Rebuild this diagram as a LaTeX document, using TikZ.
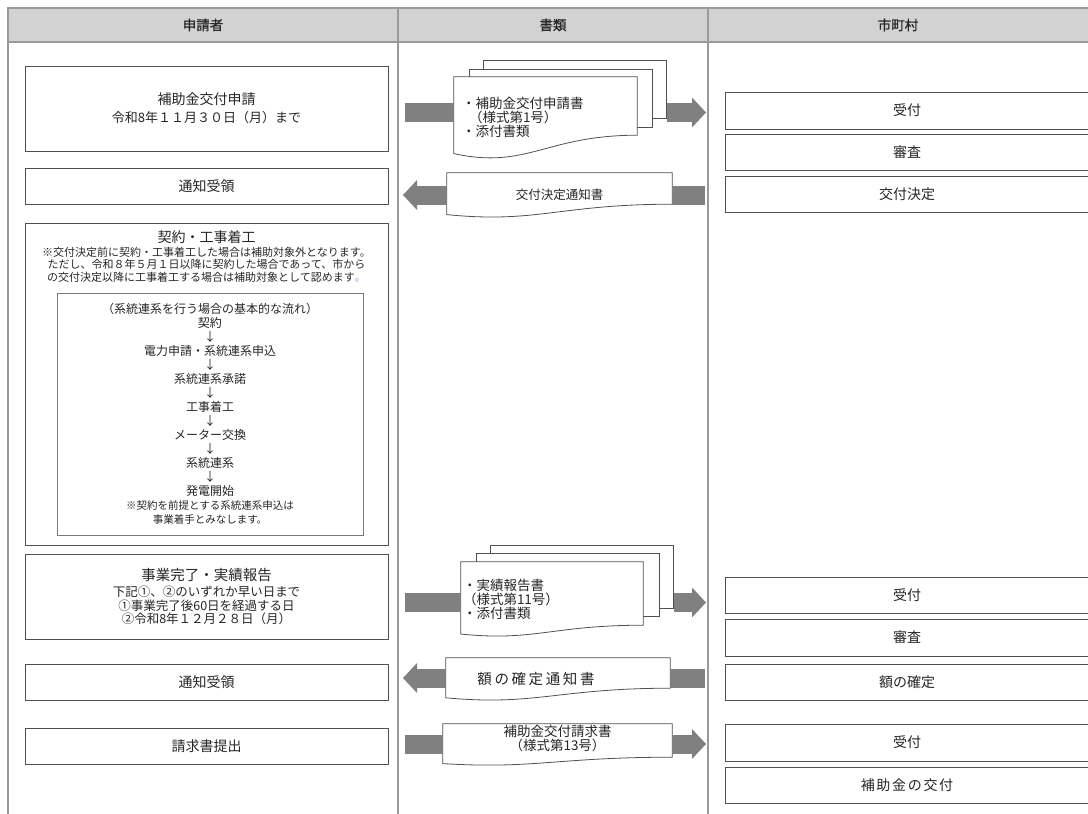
\documentclass[tikz,border=0pt]{standalone}
\usepackage{fontspec}
\setmainfont{Noto Sans CJK JP}
\newfontfamily\headfont[FakeBold=1]{Noto Sans CJK JP}
\newfontfamily\widefont[LetterSpace=12]{Noto Sans CJK JP}
\newfontfamily\widerfont[LetterSpace=18]{Noto Sans CJK JP}
\usetikzlibrary{arrows.meta, calc, backgrounds}

\definecolor{boxline}{HTML}{505050}
\definecolor{flowline}{HTML}{7A7A7A}
\definecolor{laneline}{HTML}{9A9A9A}
\definecolor{headfill}{HTML}{D2D2D2}
\definecolor{bargray}{HTML}{808080}
\definecolor{dotblue}{HTML}{5B9BD5}
\definecolor{ink}{HTML}{262626}

\tikzset{
  lane/.style={draw=laneline, line width=1.2pt},
  lanehead/.style={inner sep=0pt, font=\headfont\fontsize{13.5}{15}\selectfont},
  stage/.style={draw=boxline, line width=0.8pt, fill=white, minimum width=363pt,
    inner sep=0pt, align=center, font=\fontsize{14}{16}\selectfont},
  office/.style={stage, minimum width=364pt},
  note/.style={inner sep=0pt, align=center, font=\fontsize{11}{12.5}\selectfont},
  paper/.style={inner sep=0pt, align=center, font=\fontsize{13.5}{14}\selectfont},
  sheet/.style={draw=boxline, line width=0.8pt, fill=white, inner sep=0pt,
    minimum width=183pt, anchor=north west},
  paperline/.style={draw=boxline, line width=0.8pt, fill=white},
  bar/.style={draw=bargray, line width=19pt},
  barhead/.style={bar, -{Triangle[length=14pt, width=30pt, line width=0pt]}},
}

\newcommand\paperedge[2]{%
  \path ($(#1.south)!0.2!(#1.south west)$) coordinate (#1-dip);
  \draw[paperline] (#1.north west) -- (#1.north east) -- ([yshift=#2pt]#1.south east)
    .. controls ([yshift=#2pt]#1.south) and ([yshift=-0.5*#2pt]#1-dip)
    .. ([yshift=0.2*#2pt]#1.south west) -- cycle;}

\begin{document}
\begin{tikzpicture}[x=1pt, y=-1pt, text=ink]
\useasboundingbox (0,0) rectangle (1088,814);

\draw[lane, fill=headfill] (8,8) rectangle (1092,42);
\draw[lane] (8,42) -- (8,814);
\draw[lane] (398,8) -- (398,814);
\draw[lane] (708,8) -- (708,814);
\node[lanehead] (headA) at (203,25) {申請者};
\node[lanehead] (headB) at (553,25) {書類};
\node[lanehead] (headC) at (898,25) {市町村};

\node[stage, minimum height=85pt] (apply) at (206.5,108.5)
  {補助金交付申請\\[2pt]{\fontsize{13}{15}\selectfont 令和8年１１月３０日（月）まで}};
\node[stage, minimum height=36pt] (gotA) at (206.5,186) {通知受領};
\node[stage, minimum height=322pt] (contract) at (206.5,384) {};
\node[inner sep=0pt, font=\fontsize{14}{16}\selectfont] (contracttitle) at (206.5,237) {契約・工事着工};
\node[note] (contractnote) at (206.5,264.5)
  {※交付決定前に契約・工事着工した場合は補助対象外となります。\\
   ただし、令和８年５月１日以降に契約した場合であって、市から\\
   の交付決定以降に工事着工する場合は補助対象として認めます\textcolor{dotblue}{。}};
\node[stage, draw=flowline, minimum width=306pt, minimum height=242pt,
  font=\fontsize{12}{14}\selectfont] (flow) at (210,414)
  {（系統連系を行う場合の基本的な流れ）\\契約\\↓\\電力申請・系統連系申込\\↓\\
   系統連系承諾\\↓\\工事着工\\↓\\メーター交換\\↓\\系統連系\\↓\\発電開始\\
   {\fontsize{10.5}{12}\selectfont ※契約を前提とする系統連系申込は}\\
   {\fontsize{10.5}{12}\selectfont 事業着手とみなします。}};
\node[stage, minimum height=85pt, font=\fontsize{12.5}{13.5}\selectfont] (report) at (206.5,596.5)
  {{\fontsize{14.5}{16}\selectfont 事業完了・実績報告}\\[2.5pt]
   下記①、②のいずれか早い日まで\\①事業完了後60日を経過する日\\②令和8年１２月２８日（月）};
\node[stage, minimum height=36pt] (gotB) at (206.5,682) {通知受領};
\node[stage, minimum height=36pt] (invoice) at (206.5,746) {請求書提出};

\node[office, minimum height=37pt] (recA) at (907,110.5) {受付};
\node[office, minimum height=36pt] (checkA) at (907,152) {審査};
\node[office, minimum height=36pt] (decide) at (907,194) {交付決定};
\node[office, minimum height=36pt] (recB) at (907,595) {受付};
\node[office, minimum height=37pt] (checkB) at (907,637.5) {審査};
\node[office, minimum height=36pt] (fix) at (907,682) {額の確定};
\node[office, minimum height=37pt] (recC) at (907,742.5) {受付};
\node[office, minimum height=36pt] (pay) at (907,785) {\widefont\fontsize{14}{16}\selectfont 補助金の交付};

\node[paper, minimum width=183pt, minimum height=81pt, text width=167pt, inner xsep=8pt, align=left]
  (formA) at (545.5,117.5) {・補助金交付申請書\\\hspace{7pt}（様式第1号）\\・添付書類};
\node[paper, minimum width=225pt, minimum height=44pt, font=\fontsize{12.5}{14}\selectfont]
  (noticeA) at (559.5,195) {交付決定通知書};
\node[paper, minimum width=182pt, minimum height=74pt, text width=178pt, inner xsep=2pt, align=left]
  (formB) at (552,599) {・実績報告書\\（様式第11号）\\・添付書類};
\node[paper, minimum width=224pt, minimum height=42pt] (noticeB) at (558,679)
  {\widerfont\fontsize{14.5}{16}\selectfont 額の確定通知書\hspace*{44pt}};
\node[paper, minimum width=229pt, minimum height=41pt] (claim) at (557.5,744.5)
  {補助金交付請求書\\（様式第13号）\\\mbox{}};

\begin{scope}[on background layer]
  \node[sheet, minimum height=58pt] (formAc) at ([shift={(29pt,17pt)}]formA.north west) {};
  \node[sheet, minimum height=58pt] (formAb) at ([shift={(15pt,8pt)}]formA.north west) {};
  \paperedge{formA}{23}
  \paperedge{noticeA}{13}
  \node[sheet, minimum height=63pt] (formBc) at ([shift={(29pt,17pt)}]formB.north west) {};
  \node[sheet, minimum height=63pt] (formBb) at ([shift={(15pt,9pt)}]formB.north west) {};
  \paperedge{formB}{11}
  \paperedge{noticeB}{12}
  \paperedge{claim}{8}
\end{scope}

\coordinate (inA) at (405,112.5);
\coordinate (outA) at (706,112.5);
\coordinate (backA) at (403,195);
\coordinate (fromA) at (705,195);
\coordinate (inB) at (405,602.5);
\coordinate (outB) at (706,602.5);
\coordinate (backB) at (403,678);
\coordinate (fromB) at (705,678);
\coordinate (inC) at (405,744);
\coordinate (outC) at (706,744);

\draw[bar] (inA) -- (inA -| formA.west);
\draw[barhead] (outA -| formAc.east) -- (outA);
\draw[barhead] (backA -| noticeA.west) -- (backA);
\draw[bar] (fromA) -- (fromA -| noticeA.east);
\draw[bar] (inB) -- (inB -| formB.west);
\draw[barhead] (outB -| formBc.east) -- (outB);
\draw[barhead] (backB -| noticeB.west) -- (backB);
\draw[bar] (fromB) -- (fromB -| noticeB.east);
\draw[bar] (inC) -- (inC -| claim.west);
\draw[barhead] (outC -| claim.east) -- (outC);
\end{tikzpicture}
\end{document}
